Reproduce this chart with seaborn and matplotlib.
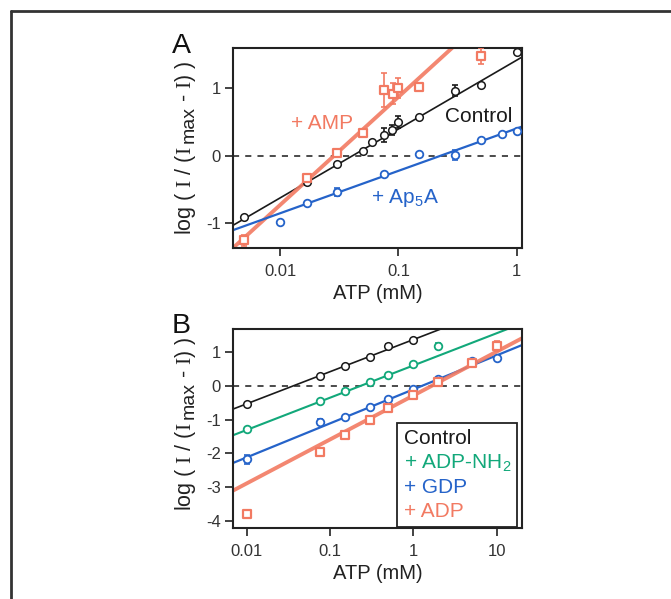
import numpy as np
import matplotlib
matplotlib.use("Agg")
import matplotlib.pyplot as plt
import seaborn as sns
from matplotlib.lines import Line2D
from matplotlib.transforms import IdentityTransform

# ---- panel A: ATP dose response, control / + AMP / + Ap5A
a_ctrl_x = [0.005, 0.017, 0.03, 0.05, 0.06, 0.075, 0.088, 0.1, 0.15, 0.3, 0.5, 1.0]
a_ctrl_y = [-0.90, -0.385, -0.12, 0.07, 0.20, 0.31, 0.38, 0.50, 0.57, 0.96, 1.04, 1.53]
a_ctrl_err = [0, 0.05, 0, 0, 0, 0.10, 0.08, 0.09, 0, 0.08, 0, 0]

a_amp_x = [0.005, 0.017, 0.03, 0.05, 0.075, 0.09, 0.1, 0.15, 0.5]
a_amp_y = [-1.25, -0.335, 0.035, 0.33, 0.97, 0.92, 1.0, 1.02, 1.47]
a_amp_err = [0.08, 0.06, 0.05, 0, 0.25, 0.15, 0.15, 0, 0.12]

a_ap5a_x = [0.01, 0.017, 0.03, 0.075, 0.15, 0.3, 0.5, 0.75, 1.0]
a_ap5a_y = [-0.98, -0.70, -0.54, -0.27, 0.025, 0.01, 0.23, 0.32, 0.37]
a_ap5a_err = [0, 0, 0.06, 0, 0, 0.07, 0, 0, 0]

# fitted lines (slope, intercept vs log10 ATP)
a_fit_slope = [1.02, 1.60, 0.628]
a_fit_icpt = [1.415, 2.47, 0.404]

# ---- panel B: control / + ADP-NH2 / + GDP / + ADP
b_ctrl_x = [0.01, 0.075, 0.15, 0.3, 0.5, 1.0]
b_ctrl_y = [-0.55, 0.30, 0.59, 0.84, 1.17, 1.35]
b_ctrl_err = [0, 0, 0, 0, 0.06, 0]

b_nh2_x = [0.01, 0.075, 0.15, 0.3, 0.5, 1.0, 2.0]
b_nh2_y = [-1.29, -0.44, -0.16, 0.10, 0.32, 0.64, 1.17]
b_nh2_err = [0, 0, 0.05, 0.05, 0.07, 0, 0.09]

b_gdp_x = [0.01, 0.075, 0.15, 0.3, 0.5, 1.0, 2.0, 5.0, 10.0]
b_gdp_y = [-2.18, -1.06, -0.92, -0.64, -0.39, -0.10, 0.20, 0.73, 0.81]
b_gdp_err = [0.14, 0.09, 0, 0, 0, 0, 0, 0.07, 0]

b_adp_x = [0.01, 0.075, 0.15, 0.3, 0.5, 1.0, 2.0, 5.0, 10.0]
b_adp_y = [-3.80, -1.97, -1.46, -1.01, -0.67, -0.28, 0.10, 0.66, 1.18]
b_adp_err = [0.09, 0.07, 0, 0, 0, 0, 0, 0.06, 0.14]

b_fit_slope = [0.95, 0.954, 1.006, 1.30]
b_fit_icpt = [1.366, 0.60, -0.108, -0.29]

legend_labels = ["Control", "+ ADP-NH$_\\mathsf{2}$", "+ GDP", "+ ADP"]

BLACK = "#1a1a1a"
SALMON = "#F27A62"
BLUE = "#2563C9"
GREEN = "#12A87A"
INK = "#222222"

sns.set_theme(style="ticks")
plt.rcParams["font.family"] = ["Liberation Sans", "DejaVu Sans"]
plt.rcParams["mathtext.fontset"] = "custom"
plt.rcParams["mathtext.rm"] = "Liberation Serif"
plt.rcParams["mathtext.sf"] = "Liberation Sans"
plt.rcParams["mathtext.it"] = "Liberation Sans:italic"

fig = plt.figure(figsize=(6.71, 5.99), dpi=100)
axA = fig.add_axes([0.3477, 0.5855, 0.4298, 0.3339])
axB = fig.add_axes([0.3477, 0.1180, 0.4298, 0.3322])


def draw_series(ax, x, y, err, col, marker, lw_edge, ms):
    x = np.asarray(x)
    y = np.asarray(y)
    err = np.asarray(err)
    m = err > 0
    ax.errorbar(x[m], y[m], yerr=err[m], fmt="none", ecolor=col,
                elinewidth=1.2, capsize=2.5, capthick=1.2, zorder=3)
    sns.scatterplot(x=x, y=y, ax=ax, marker=marker, s=ms, color="white",
                    edgecolor=col, linewidth=lw_edge, zorder=4)


def draw_fit(ax, slope, icpt, xlim, col, lw, alpha=1.0):
    xx = np.logspace(np.log10(xlim[0]), np.log10(xlim[1]), 60)
    sns.lineplot(x=xx, y=slope * np.log10(xx) + icpt, ax=ax, color=col,
                 linewidth=lw, alpha=alpha, zorder=2)


def style_axis(ax, xlim, ylim, xticks, xticklabels, yticks):
    ax.set_xscale("log")
    ax.set_xlim(*xlim)
    ax.set_ylim(*ylim)
    ax.set_xticks(xticks)
    ax.set_xticklabels(xticklabels)
    ax.xaxis.set_minor_locator(matplotlib.ticker.NullLocator())
    ax.set_yticks(yticks)
    ax.set_yticklabels([str(t) for t in yticks])
    ax.axhline(0, color=BLACK, ls=(0, (4, 4)), lw=1.1, zorder=1)
    for s in ax.spines.values():
        s.set_visible(True)
        s.set_color(INK)
        s.set_linewidth(1.5)
    ax.tick_params(axis="both", direction="out", length=6, width=1.2,
                   color=INK, labelsize=12, labelcolor="#333333")
    ax.tick_params(axis="x", pad=5)
    ax.tick_params(axis="y", pad=3)
    ax.set_xlabel("ATP (mM)", fontsize=14.5, color=INK, labelpad=4)
    ax.set_ylabel("")
    ax.set_facecolor("white")


def piece_ylabel(pieces, x_px, yc_px):
    # y label built from pieces so "max" can sit lowered at almost full size
    r = fig.canvas.get_renderer()
    items = []
    for s, fs, dx, gap in pieces:
        t = fig.text(0, 0, s, fontsize=fs, rotation=90, rotation_mode="anchor",
                     ha="left", va="baseline", color=INK, transform=IdentityTransform())
        items.append((t, dx, gap, t.get_window_extent(r).height))
    total = sum(L + g for _, _, g, L in items)
    y = yc_px - total / 2
    for t, dx, gap, L in items:
        t.set_position((x_px + dx, y))
        y += L + gap


ylab_pieces = [("log ( $\\mathrm{I}$ / ($\\mathrm{I}$", 15.5, 0, 3),
               ("max", 14, 3, 4),
               ("- $\\mathrm{I}$) )", 15.5, 0, 0)]

# ---- panel A
xlimA = (0.00403, 1.1)
draw_fit(axA, a_fit_slope[0], a_fit_icpt[0], xlimA, BLACK, 1.2)
draw_fit(axA, a_fit_slope[1], a_fit_icpt[1], xlimA, SALMON, 2.8, 0.9)
draw_fit(axA, a_fit_slope[2], a_fit_icpt[2], xlimA, BLUE, 1.6)
draw_series(axA, a_ctrl_x, a_ctrl_y, a_ctrl_err, BLACK, "o", 1.1, 30)
draw_series(axA, a_amp_x, a_amp_y, a_amp_err, SALMON, "s", 1.6, 26)
draw_series(axA, a_ap5a_x, a_ap5a_y, a_ap5a_err, BLUE, "o", 1.3, 30)
style_axis(axA, xlimA, (-1.37, 1.59), [0.01, 0.1, 1], ["0.01", "0.1", "1"], [-1, 0, 1])
axA.text(0.0225, 0.48, "+ AMP", color=SALMON, fontsize=15, ha="center", va="center")
axA.text(0.48, 0.58, "Control", color=BLACK, fontsize=15, ha="center", va="center")
axA.text(0.114, -0.63, "+ Ap$_\\mathsf{5}$A", color=BLUE, fontsize=15, ha="center", va="center")
axA.text(-0.18, 0.977, "A", transform=axA.transAxes, fontsize=20.5, color="#111111",
         ha="center", va="baseline")

# ---- panel B
xlimB = (0.0069, 20)
draw_fit(axB, b_fit_slope[0], b_fit_icpt[0], xlimB, BLACK, 1.2)
draw_fit(axB, b_fit_slope[1], b_fit_icpt[1], xlimB, GREEN, 1.5)
draw_fit(axB, b_fit_slope[2], b_fit_icpt[2], xlimB, BLUE, 1.6)
draw_fit(axB, b_fit_slope[3], b_fit_icpt[3], xlimB, SALMON, 2.8, 0.9)
draw_series(axB, b_ctrl_x, b_ctrl_y, b_ctrl_err, BLACK, "o", 1.1, 30)
draw_series(axB, b_nh2_x, b_nh2_y, b_nh2_err, GREEN, "o", 1.3, 30)
draw_series(axB, b_gdp_x, b_gdp_y, b_gdp_err, BLUE, "o", 1.3, 30)
draw_series(axB, b_adp_x, b_adp_y, b_adp_err, SALMON, "s", 1.6, 26)
style_axis(axB, xlimB, (-4.22, 1.67), [0.01, 0.1, 1, 10], ["0.01", "0.1", "1", "10"],
           [-4, -3, -2, -1, 0, 1])
axB.text(-0.18, 0.981, "B", transform=axB.transAxes, fontsize=20.5, color="#111111",
         ha="center", va="baseline")

handles = [Line2D([], [], color=c) for c in [BLACK, GREEN, BLUE, SALMON]]
leg = axB.legend(handles, legend_labels, loc="lower right", bbox_to_anchor=(0.985, 0.006),
                 handlelength=0, handletextpad=0, fontsize=15, frameon=True,
                 fancybox=False, edgecolor=INK, framealpha=1,
                 borderpad=0.3, labelspacing=0.22, borderaxespad=0)
leg.get_frame().set_linewidth(1.3)
for h in leg.legend_handles:
    h.set_visible(False)
for t, c in zip(leg.get_texts(), [BLACK, GREEN, BLUE, SALMON]):
    t.set_color(c)

# rotated y labels, pixel coords from bottom-left
piece_ylabel(ylab_pieces, 191, 599 - 148)
piece_ylabel(ylab_pieces, 191, 599 - 424)

# outer frame (left and top edges only)
fx = 10.5 / 671
fy = 1 - 10.5 / 599
fig.add_artist(Line2D([fx, fx], [0, fy], transform=fig.transFigure, color="#333333", lw=2))
fig.add_artist(Line2D([fx, 1], [fy, fy], transform=fig.transFigure, color="#333333", lw=2))

fig.savefig("out.png", dpi=100, facecolor="white")
